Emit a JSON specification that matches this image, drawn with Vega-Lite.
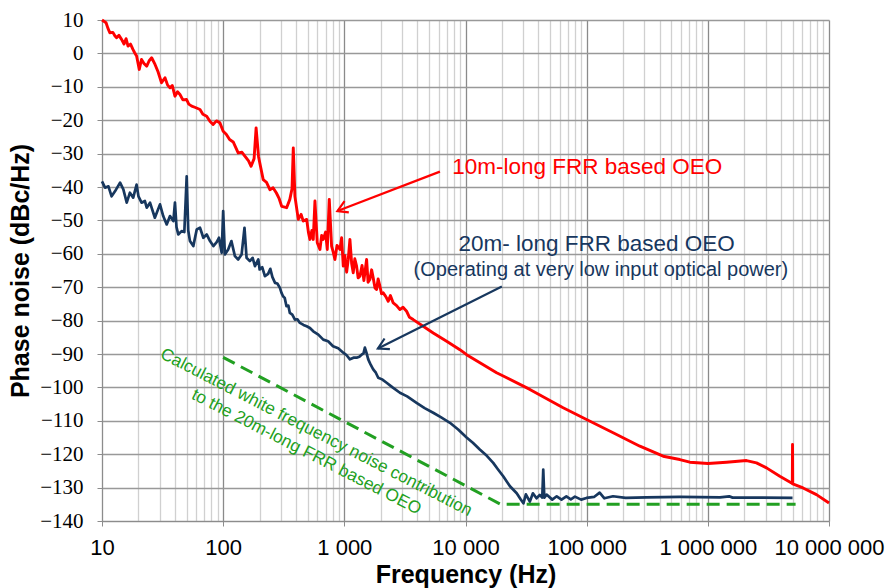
{
  "$schema": "https://vega.github.io/schema/vega-lite/v6.json",
  "width": 727,
  "height": 501,
  "autosize": {"type": "none"},
  "padding": {"left": 102, "top": 20, "right": 60, "bottom": 67},
  "background": "white",
  "config": {"view": {"stroke": null}},
  "datasets": {
    "red": [
      {"f":10,"pn":10},{"f":10.8,"pn":9.2},{"f":11.2,"pn":7.5},{"f":11.6,"pn":6.2},{"f":12.3,"pn":6.3},{"f":12.8,"pn":5.2},{"f":13.2,"pn":4.7},{"f":13.8,"pn":5.4},{"f":14.5,"pn":4.2},{"f":15.2,"pn":2.8},{"f":15.8,"pn":4.4},{"f":16.4,"pn":2.2},{"f":17.2,"pn":2.8},{"f":18,"pn":1.2},{"f":18.6,"pn":0.2},{"f":19.3,"pn":-0.8},{"f":20.3,"pn":-4.8},{"f":21.2,"pn":-1.8},{"f":22.2,"pn":-3},{"f":23.4,"pn":-3.8},{"f":24.5,"pn":-2.2},{"f":25.7,"pn":-1.3},{"f":27.4,"pn":-3.3},{"f":29,"pn":-5.5},{"f":31,"pn":-8.8},{"f":33.1,"pn":-7.3},{"f":34.8,"pn":-9.5},{"f":36.4,"pn":-10.3},{"f":38,"pn":-9.6},{"f":40,"pn":-12.8},{"f":42,"pn":-11.5},{"f":44,"pn":-12.3},{"f":46.5,"pn":-13.9},{"f":49.9,"pn":-13.8},{"f":52,"pn":-15.2},{"f":55,"pn":-15.8},{"f":59,"pn":-16.2},{"f":64.4,"pn":-16.8},{"f":68,"pn":-18.2},{"f":73.1,"pn":-18.8},{"f":78,"pn":-20.4},{"f":82.6,"pn":-21.3},{"f":88,"pn":-20.2},{"f":94,"pn":-20.8},{"f":100,"pn":-23.3},{"f":106,"pn":-24.2},{"f":113,"pn":-25.8},{"f":121,"pn":-26.5},{"f":133,"pn":-29.8},{"f":143,"pn":-29.6},{"f":155,"pn":-31.3},{"f":162,"pn":-32.2},{"f":170,"pn":-33.8},{"f":180,"pn":-31.5},{"f":187,"pn":-22.3},{"f":196,"pn":-31},{"f":214,"pn":-37.8},{"f":228,"pn":-38.6},{"f":243,"pn":-40.8},{"f":258,"pn":-40.2},{"f":275,"pn":-41.8},{"f":290,"pn":-43.5},{"f":304,"pn":-45.8},{"f":334,"pn":-46.2},{"f":355,"pn":-43.7},{"f":370,"pn":-40.5},{"f":379,"pn":-28.3},{"f":391,"pn":-42.8},{"f":417,"pn":-49.7},{"f":440,"pn":-48.2},{"f":458,"pn":-50.2},{"f":489,"pn":-49.7},{"f":505,"pn":-53.5},{"f":520,"pn":-55.7},{"f":540,"pn":-53},{"f":554,"pn":-55.7},{"f":572,"pn":-44.2},{"f":598,"pn":-56.7},{"f":629,"pn":-58.7},{"f":650,"pn":-54.5},{"f":670,"pn":-55.7},{"f":700,"pn":-53.5},{"f":723,"pn":-58.7},{"f":751,"pn":-43.7},{"f":785,"pn":-57.7},{"f":810,"pn":-59.5},{"f":836,"pn":-61.7},{"f":870,"pn":-57.5},{"f":920,"pn":-58.7},{"f":950,"pn":-55.2},{"f":980,"pn":-63.7},{"f":1010,"pn":-60.5},{"f":1045,"pn":-65.5},{"f":1077,"pn":-61.7},{"f":1112,"pn":-55.7},{"f":1150,"pn":-63},{"f":1184,"pn":-65.7},{"f":1220,"pn":-61.5},{"f":1262,"pn":-63.7},{"f":1300,"pn":-67.2},{"f":1344,"pn":-66.7},{"f":1400,"pn":-63.5},{"f":1450,"pn":-68},{"f":1527,"pn":-61.7},{"f":1570,"pn":-68.5},{"f":1625,"pn":-67.7},{"f":1680,"pn":-64.8},{"f":1731,"pn":-67.2},{"f":1790,"pn":-70.2},{"f":1846,"pn":-70.7},{"f":1900,"pn":-67.5},{"f":1966,"pn":-69.7},{"f":2030,"pn":-72},{"f":2094,"pn":-71.7},{"f":2200,"pn":-72.8},{"f":2303,"pn":-74.2},{"f":2400,"pn":-72.5},{"f":2532,"pn":-74.7},{"f":2700,"pn":-75.5},{"f":2875,"pn":-76.7},{"f":3050,"pn":-76},{"f":3265,"pn":-77.2},{"f":3450,"pn":-79},{"f":3702,"pn":-79.7},{"f":4474,"pn":-81.7},{"f":5415,"pn":-83.7},{"f":6985,"pn":-86.2},{"f":8990,"pn":-88.7},{"f":10210,"pn":-90.2},{"f":18060,"pn":-95.6},{"f":20480,"pn":-96.6},{"f":33970,"pn":-100.6},{"f":63950,"pn":-106.1},{"f":99700,"pn":-109.6},{"f":165400,"pn":-113.6},{"f":274900,"pn":-117.6},{"f":427800,"pn":-120.6},{"f":587000,"pn":-121.6},{"f":710000,"pn":-122.4},{"f":1005000,"pn":-122.8},{"f":1426000,"pn":-122.4},{"f":2084000,"pn":-121.9},{"f":2520000,"pn":-122.6},{"f":3050000,"pn":-124.1},{"f":3926000,"pn":-126.6},{"f":4906000,"pn":-128.6},{"f":4980000,"pn":-128.8},{"f":5000000,"pn":-117.1},{"f":5020000,"pn":-128.9},{"f":6110000,"pn":-130.1},{"f":7880000,"pn":-132.1},{"f":10000000,"pn":-134.6}
    ],
    "blue": [
      {"f":10,"pn":-38.3},{"f":10.6,"pn":-40.2},{"f":11.3,"pn":-39.8},{"f":12,"pn":-42.8},{"f":12.8,"pn":-41.3},{"f":14.1,"pn":-38.7},{"f":15,"pn":-40.7},{"f":16,"pn":-44.7},{"f":17,"pn":-41.7},{"f":18.1,"pn":-43.2},{"f":19.3,"pn":-39.3},{"f":20,"pn":-42.8},{"f":21.2,"pn":-44.7},{"f":22.6,"pn":-44.2},{"f":23.4,"pn":-46.2},{"f":24.9,"pn":-44.7},{"f":27.3,"pn":-49.2},{"f":30.1,"pn":-45.2},{"f":32,"pn":-48.7},{"f":34.2,"pn":-51.2},{"f":36.4,"pn":-48.7},{"f":38.8,"pn":-50.2},{"f":40,"pn":-44.7},{"f":41.2,"pn":-52},{"f":42.6,"pn":-54.2},{"f":45.4,"pn":-53.2},{"f":47.8,"pn":-53.5},{"f":50,"pn":-36.8},{"f":51.5,"pn":-53},{"f":53.2,"pn":-56.2},{"f":56.7,"pn":-57.7},{"f":60.5,"pn":-52.7},{"f":64.4,"pn":-52.2},{"f":68.6,"pn":-55.2},{"f":73.1,"pn":-54.2},{"f":77.9,"pn":-56.2},{"f":83,"pn":-57.7},{"f":88.4,"pn":-56.5},{"f":92.3,"pn":-55.2},{"f":97.2,"pn":-59.7},{"f":100,"pn":-47.2},{"f":103.3,"pn":-60.2},{"f":110,"pn":-58.7},{"f":117,"pn":-56.2},{"f":125,"pn":-60.7},{"f":133,"pn":-61.7},{"f":142,"pn":-60.2},{"f":150,"pn":-52.2},{"f":156,"pn":-61.2},{"f":166,"pn":-62.2},{"f":175,"pn":-61.2},{"f":183,"pn":-63.7},{"f":195,"pn":-61.7},{"f":200,"pn":-64.7},{"f":210,"pn":-64},{"f":221,"pn":-66.7},{"f":235,"pn":-66},{"f":245,"pn":-64.5},{"f":255,"pn":-67},{"f":268,"pn":-68.7},{"f":280,"pn":-68.9},{"f":294,"pn":-70.2},{"f":303,"pn":-71.7},{"f":312,"pn":-72.7},{"f":322,"pn":-73.2},{"f":333,"pn":-75.7},{"f":345,"pn":-75.5},{"f":355,"pn":-77.7},{"f":372,"pn":-78.2},{"f":391,"pn":-79.7},{"f":410,"pn":-79.6},{"f":430,"pn":-80.7},{"f":460,"pn":-81.3},{"f":489,"pn":-81.7},{"f":520,"pn":-82.2},{"f":554,"pn":-83.2},{"f":610,"pn":-84.2},{"f":670,"pn":-85.7},{"f":735,"pn":-86.2},{"f":807,"pn":-87.7},{"f":890,"pn":-88.3},{"f":980,"pn":-89.6},{"f":1040,"pn":-90.3},{"f":1112,"pn":-91.6},{"f":1190,"pn":-91.1},{"f":1262,"pn":-91.1},{"f":1330,"pn":-90.8},{"f":1388,"pn":-90.2},{"f":1440,"pn":-89.8},{"f":1478,"pn":-88.1},{"f":1520,"pn":-89.5},{"f":1575,"pn":-91.6},{"f":1650,"pn":-93.2},{"f":1731,"pn":-94.6},{"f":1820,"pn":-95.6},{"f":1904,"pn":-97.1},{"f":2050,"pn":-97.6},{"f":2233,"pn":-98.6},{"f":2500,"pn":-100},{"f":2875,"pn":-101.6},{"f":3300,"pn":-102.7},{"f":3945,"pn":-104.6},{"f":4600,"pn":-106.2},{"f":5415,"pn":-107.6},{"f":6300,"pn":-109},{"f":7440,"pn":-110.6},{"f":8700,"pn":-112.6},{"f":10210,"pn":-115},{"f":11500,"pn":-116.6},{"f":13120,"pn":-118.6},{"f":15000,"pn":-120.5},{"f":16930,"pn":-122.6},{"f":18500,"pn":-124.5},{"f":20480,"pn":-126.6},{"f":23280,"pn":-129.6},{"f":26460,"pn":-131.7},{"f":28500,"pn":-133.5},{"f":30070,"pn":-134.7},{"f":31500,"pn":-132},{"f":33970,"pn":-134.2},{"f":36000,"pn":-131.7},{"f":38560,"pn":-133.2},{"f":41000,"pn":-132.2},{"f":43000,"pn":-133},{"f":43820,"pn":-124.6},{"f":44700,"pn":-133},{"f":46700,"pn":-132.1},{"f":52000,"pn":-133.6},{"f":56600,"pn":-132.6},{"f":62000,"pn":-133.6},{"f":68000,"pn":-132.6},{"f":74000,"pn":-133.5},{"f":80000,"pn":-132.7},{"f":90000,"pn":-133.6},{"f":99700,"pn":-133.1},{"f":115000,"pn":-132.8},{"f":128000,"pn":-131.5},{"f":140000,"pn":-133.2},{"f":165000,"pn":-132.6},{"f":210000,"pn":-133.1},{"f":310000,"pn":-132.9},{"f":587000,"pn":-132.8},{"f":1260000,"pn":-132.9},{"f":1500000,"pn":-132.6},{"f":1600000,"pn":-133},{"f":2700000,"pn":-133},{"f":5000000,"pn":-133.1}
    ],
    "green": [
      {"f":100,"pn":-91},{"f":19500,"pn":-135},{"f":5300000,"pn":-135}
    ],
    "redArrow": [
      {"part":"shaft","o":0,"f":6150,"pn":-35.4},{"part":"shaft","o":1,"f":877,"pn":-47.2},
      {"part":"head","o":0,"f":1004,"pn":-44.25},{"part":"head","o":1,"f":877,"pn":-47.2},{"part":"head","o":2,"f":1089,"pn":-47.6}
    ],
    "blueArrow": [
      {"part":"shaft","o":0,"f":19950,"pn":-69.8},{"part":"shaft","o":1,"f":1893,"pn":-88.35},
      {"part":"head","o":0,"f":2148,"pn":-85.36},{"part":"head","o":1,"f":1893,"pn":-88.35},{"part":"head","o":2,"f":2377,"pn":-88.56}
    ],
    "redLabel": [{"f":101000,"pn":-36.1,"text":"10m-long FRR based OEO"}],
    "blueLabel1": [{"f":121000,"pn":-59.3,"text":"20m- long FRR based OEO"}],
    "blueLabel2": [{"f":131000,"pn":-66.6,"text":"(Operating at very low input optical power)"}],
    "greenLabel": [
      {"f":561,"pn":-114.85,"text":"Calculated white frequency noise contribution"},
      {"f":465,"pn":-120.7,"text":"to the 20m-long FRR based OEO"}
    ]
  },
  "encoding": {
    "x": {
      "field": "f", "type": "quantitative",
      "scale": {"type": "log", "domain": [10, 10000000], "nice": false},
      "axis": {
        "title": "Frequency (Hz)",
        "values": [10,20,30,40,50,60,70,80,90,100,200,300,400,500,600,700,800,900,1000,2000,3000,4000,5000,6000,7000,8000,9000,10000,20000,30000,40000,50000,60000,70000,80000,90000,100000,200000,300000,400000,500000,600000,700000,800000,900000,1000000,2000000,3000000,4000000,5000000,6000000,7000000,8000000,9000000,10000000],
        "labelExpr": "{'10':'10','100':'100','1000':'1 000','10000':'10 000','100000':'100 000','1000000':'1 000 000','10000000':'10 000 000'}[datum.value] || ''",
        "labelOverlap": false,
        "labelFlush": false,
        "labelBound": false,
        "labelFont": "Liberation Sans",
        "labelFontSize": 22,
        "labelColor": "#000000",
        "labelPadding": 11,
        "tickSize": {"condition": {"test": "abs(log(datum.value)/LN10 - round(log(datum.value)/LN10)) < 0.000001", "value": 5}, "value": 0},
        "tickColor": "#8c8c8c",
        "domainColor": "#8c8c8c",
        "grid": true,
        "gridColor": {"condition": {"test": "abs(log(datum.value)/LN10 - round(log(datum.value)/LN10)) < 0.000001", "value": "#8a8a8a"}, "value": "#d0d0d0"},
        "gridWidth": 1.3,
        "titleFont": "Liberation Sans",
        "titleFontSize": 25,
        "titleFontWeight": "bold",
        "titleColor": "#000000",
        "titlePadding": 4
      }
    },
    "y": {
      "field": "pn", "type": "quantitative",
      "scale": {"domain": [-140, 10], "nice": false, "zero": false},
      "axis": {
        "title": "Phase noise (dBc/Hz)",
        "values": [-140,-130,-120,-110,-100,-90,-80,-70,-60,-50,-40,-30,-20,-10,0,10],
        "labelFont": "Liberation Serif",
        "labelFontSize": 21,
        "labelColor": "#000000",
        "labelPadding": 14,
        "labelOverlap": false,
        "labelFlush": false,
        "labelBound": false,
        "tickSize": 5,
        "tickColor": "#8c8c8c",
        "domainColor": "#8c8c8c",
        "grid": true,
        "gridColor": "#999999",
        "gridWidth": 1.3,
        "titleFont": "Liberation Sans",
        "titleFontSize": 25,
        "titleFontWeight": "bold",
        "titleColor": "#000000",
        "titlePadding": 6
      }
    }
  },
  "layer": [
    {"data": {"name": "green"}, "mark": {"type": "line", "color": "#22a022", "strokeWidth": 3, "strokeDash": [13, 7]}},
    {"data": {"name": "blue"}, "mark": {"type": "line", "color": "#17375e", "strokeWidth": 2.7, "strokeJoin": "round"}},
    {"data": {"name": "red"}, "mark": {"type": "line", "color": "#ff0000", "strokeWidth": 2.9, "strokeJoin": "round"}},
    {"data": {"name": "redArrow"}, "mark": {"type": "line", "color": "#ff0000", "strokeWidth": 2.2},
     "encoding": {"detail": {"field": "part"}, "order": {"field": "o", "type": "quantitative"}}},
    {"data": {"name": "blueArrow"}, "mark": {"type": "line", "color": "#17375e", "strokeWidth": 2.2},
     "encoding": {"detail": {"field": "part"}, "order": {"field": "o", "type": "quantitative"}}},
    {"data": {"name": "redLabel"}, "mark": {"type": "text", "color": "#ff0000", "font": "Liberation Sans", "fontSize": 22.5, "align": "center", "baseline": "alphabetic"},
     "encoding": {"text": {"field": "text"}}},
    {"data": {"name": "blueLabel1"}, "mark": {"type": "text", "color": "#17375e", "font": "Liberation Sans", "fontSize": 22.5, "align": "center", "baseline": "alphabetic"},
     "encoding": {"text": {"field": "text"}}},
    {"data": {"name": "blueLabel2"}, "mark": {"type": "text", "color": "#17375e", "font": "Liberation Sans", "fontSize": 20, "align": "center", "baseline": "alphabetic"},
     "encoding": {"text": {"field": "text"}}},
    {"data": {"name": "greenLabel"}, "mark": {"type": "text", "color": "#22a022", "font": "Liberation Sans", "fontSize": 17.3, "align": "center", "baseline": "alphabetic", "angle": 27.2},
     "encoding": {"text": {"field": "text"}}}
  ]
}
